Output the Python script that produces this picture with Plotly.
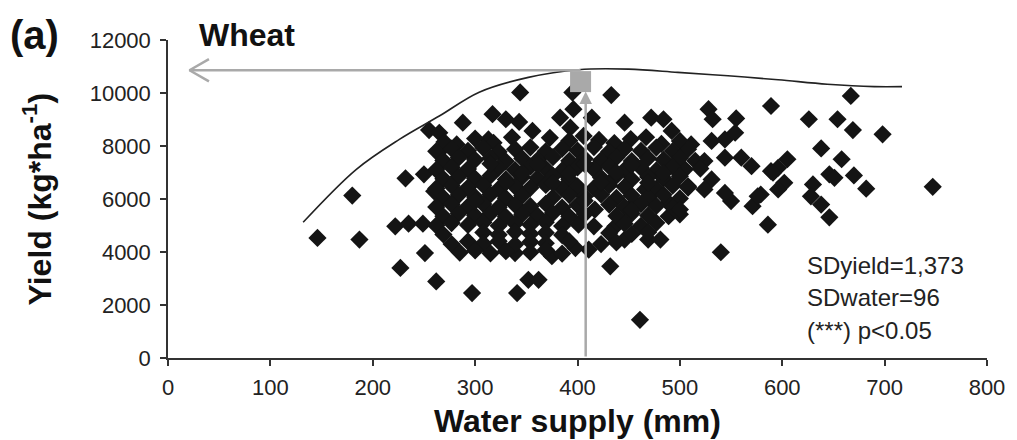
import plotly.graph_objects as go

# ---------------- data ----------------
water_supply_mm = [
    # sparse / outlying points
    146, 180, 187, 222, 235, 249, 232, 250, 251, 227, 262, 297, 255, 265, 288, 265, 282, 260,
    344, 395, 433, 317, 330, 343, 383, 396, 393, 414, 472, 484, 528, 532, 555, 589, 313, 356,
    373, 446, 492, 511, 544, 560, 570, 589, 586, 540, 432, 411, 461, 341, 352, 362, 339, 375,
    398, 446, 469, 481, 417, 401, 416, 437, 489, 489, 466, 456,
    667, 626, 654, 669, 698, 747, 638, 658, 646, 651, 670, 682, 630, 628, 638, 646, 605, 596,
    591, 602, 596, 579, 571, 550, 531, 531, 554, 544, 524, 505, 508, 524, 544, 576,
    # dense core
    270, 300, 318, 336, 392, 406, 421, 436, 452, 467, 482, 500,
    262, 277, 293, 308, 323, 339, 354, 369, 385, 400, 416, 431, 446, 462, 477, 493, 508,
    269, 284, 300, 315, 330, 346, 361, 376, 392, 407, 423, 438, 453, 469, 484, 500, 515,
    262, 277, 293, 323, 339, 354, 369, 385, 400, 416, 431, 446, 462, 477, 493, 520,
    269, 284, 300, 315, 330, 346, 361, 376, 392, 423, 438, 453, 469, 484, 500,
    262, 277, 293, 308, 323, 339, 354, 369, 385, 400, 416, 431, 446, 477, 493, 508,
    269, 284, 300, 315, 330, 346, 376, 392, 407, 423, 438, 453, 469, 484, 500,
    262, 277, 293, 308, 323, 339, 354, 369, 385, 400, 431, 446, 462, 477, 493,
    269, 284, 300, 315, 330, 346, 361, 376, 392, 407, 438, 453, 469, 500,
    262, 277, 293, 308, 323, 339, 354, 369, 385, 446, 462, 477,
    269, 308, 323, 339, 354, 369, 385, 431, 453, 469,
    277, 293, 308, 323, 339, 354, 369, 392, 423, 438,
    285, 300, 315, 330, 354, 369, 385,
    # extra fill points inside the dense core
    315, 361, 407, 453, 346, 392, 438, 484, 330, 376, 423, 469, 300, 407, 453, 500,
]
yield_kg_ha = [
    4530, 6130, 4470, 4970, 5070, 5070, 6780, 6930, 3960, 3400, 2890, 2450, 8600, 8500, 8880, 7790, 8060, 6290,
    10020, 10020, 9920, 9200, 9010, 8910, 9070, 9390, 8690, 9070, 9070, 9010, 9390, 9010, 9040, 9510, 8250, 8570,
    8310, 8880, 8570, 8060, 8250, 7560, 7240, 7050, 5030, 3990, 3460, 4090, 1440, 2450, 2950, 2950, 3960, 3840,
    4150, 4470, 4470, 4470, 5600, 5030, 4970, 4970, 5350, 5860, 6360, 5860,
    9890, 9010, 9010, 8600, 8440, 6460, 7910, 7500, 6930, 6800, 6890, 6390, 6550, 6100, 5790, 5310, 7500, 7180,
    6990, 6610, 6360, 6170, 5730, 5920, 6740, 8190, 8500, 7560, 7430, 7120, 6480, 6360, 6230, 6100,
    8150, 8280, 8120, 8330, 8200, 8380, 8230, 8110, 8260, 8330, 8080, 8190,
    7800, 7900, 7820, 7930, 7780, 7880, 7950, 7800, 7900, 7830, 7960, 7790, 7890, 7820, 7940, 7810, 7880,
    7450, 7560, 7480, 7550, 7420, 7530, 7470, 7580, 7440, 7520, 7460, 7570, 7430, 7540, 7480, 7550, 7440,
    7100, 7200, 7130, 7180, 7090, 7220, 7150, 7080, 7190, 7120, 7230, 7100, 7170, 7080, 7210, 7150,
    6760, 6850, 6770, 6880, 6740, 6830, 6790, 6870, 6750, 6810, 6880, 6740, 6830, 6780, 6860,
    6400, 6500, 6430, 6520, 6380, 6470, 6420, 6530, 6390, 6480, 6410, 6520, 6460, 6390, 6500, 6430,
    6050, 6150, 6080, 6170, 6030, 6120, 6060, 6150, 6090, 6170, 6040, 6130, 6070, 6160, 6020,
    5700, 5800, 5720, 5810, 5690, 5780, 5730, 5820, 5680, 5770, 5790, 5700, 5810, 5740, 5680,
    5350, 5460, 5380, 5450, 5330, 5420, 5370, 5470, 5340, 5430, 5360, 5450, 5380, 5420,
    5000, 5090, 5020, 5110, 4990, 5080, 5030, 5120, 4980, 5070, 4990, 5100,
    4660, 4740, 4650, 4760, 4690, 4730, 4640, 4720, 4680, 4750,
    4300, 4400, 4320, 4410, 4280, 4380, 4330, 4400, 4300, 4360,
    3980, 4060, 3950, 4030, 3990, 4080, 3940,
    7330, 7300, 7320, 7290, 6980, 6960, 7000, 6970, 6620, 6600, 6630, 6610, 5920, 5930, 5580, 5600,
]

# boundary line (maximum attainable yield)
boundary_water_mm = [132, 184, 226, 265, 304, 352, 401, 450, 498, 547, 596, 644, 690, 717]
boundary_yield_kg = [5120, 7120, 8250, 9130, 10030, 10590, 10880, 10900, 10780, 10650, 10500, 10330, 10240, 10240]

# highlighted optimum (gray square) and arrow targets
optimum_water_mm = 403
optimum_yield_kg = 10430
arrow_water_mm = 408          # vertical arrow position
arrow_tip_yield_kg = 10060    # vertical arrow tip
arrow_yield_kg = 10860        # horizontal arrow level
arrow_left_mm = 21            # horizontal arrow tip

x_ticks = [0, 100, 200, 300, 400, 500, 600, 700, 800]
y_ticks = [0, 2000, 4000, 6000, 8000, 10000, 12000]
y_tick_labels = ["0", "2000", "4000", "6000", "8000", "10000", "12000"]

stats_lines = ["SDyield=1,373", "SDwater=96", "(***) p<0.05"]

GRAY = "#a9a9a9"
FONT = "Liberation Sans, Arial, sans-serif"

fig = go.Figure()

fig.add_trace(go.Scatter(
    x=water_supply_mm, y=yield_kg_ha, mode="markers",
    marker=dict(symbol="diamond", size=14, color="#141414", line=dict(width=0)),
    hoverinfo="skip", showlegend=False))

fig.add_trace(go.Scatter(
    x=boundary_water_mm, y=boundary_yield_kg, mode="lines",
    line=dict(color="#222222", width=1.6, shape="spline", smoothing=1.0),
    hoverinfo="skip", showlegend=False))

# horizontal arrow shaft
fig.add_trace(go.Scatter(
    x=[optimum_water_mm, arrow_left_mm], y=[arrow_yield_kg, arrow_yield_kg], mode="lines",
    line=dict(color=GRAY, width=2.5), hoverinfo="skip", showlegend=False))
# open chevron head
head_dx = 19
head_dy = 420
fig.add_trace(go.Scatter(
    x=[arrow_left_mm + head_dx, arrow_left_mm, arrow_left_mm + head_dx],
    y=[arrow_yield_kg + head_dy, arrow_yield_kg, arrow_yield_kg - head_dy], mode="lines",
    line=dict(color=GRAY, width=2.5), hoverinfo="skip", showlegend=False))

# gray square
fig.add_trace(go.Scatter(
    x=[optimum_water_mm], y=[optimum_yield_kg], mode="markers",
    marker=dict(symbol="square", size=21, color=GRAY, line=dict(width=0)),
    hoverinfo="skip", showlegend=False))

annotations = [
    # vertical arrow
    dict(x=arrow_water_mm, y=arrow_tip_yield_kg, ax=arrow_water_mm, ay=0,
         xref="x", yref="y", axref="x", ayref="y", text="", showarrow=True,
         arrowhead=2, arrowsize=1.0, arrowwidth=2.5, arrowcolor=GRAY),
    # axis titles
    dict(x=-0.1594, y=0.5, xref="paper", yref="paper", text="<b>Yield (kg*ha<sup>-1</sup>)</b>",
         textangle=-90, showarrow=False, xanchor="center", yanchor="middle",
         font=dict(family=FONT, size=32, color="#111")),
    dict(x=0.5, y=-0.198, xref="paper", yref="paper", text="<b>Water supply (mm)</b>",
         showarrow=False, xanchor="center", yanchor="middle",
         font=dict(family=FONT, size=32, color="#111")),
    dict(x=-0.163, y=1.017, xref="paper", yref="paper", text="<b>(a)</b>",
         showarrow=False, xanchor="center", yanchor="middle",
         font=dict(family=FONT, size=40, color="#111")),
    dict(x=0.0353, y=1.017, xref="paper", yref="paper", text="<b>Wheat</b>",
         showarrow=False, xanchor="left", yanchor="middle",
         font=dict(family=FONT, size=32, color="#111")),
]
for i, line in enumerate(stats_lines):
    annotations.append(dict(
        x=0.778, y=0.292 - i * 0.102, xref="paper", yref="paper", text=line,
        showarrow=False, xanchor="left", yanchor="middle",
        font=dict(family=FONT, size=24, color="#222")))

fig.update_layout(
    width=1017, height=440,
    margin=dict(l=168, r=27, t=40, b=82, pad=0),
    paper_bgcolor="white", plot_bgcolor="white",
    font=dict(family=FONT, color="#222"),
    annotations=annotations,
    xaxis=dict(range=[0, 800], tickvals=x_ticks, showgrid=False, zeroline=False,
               showline=True, linecolor="#333", linewidth=1.5,
               ticks="outside", ticklen=6, tickwidth=1.5, tickcolor="#333",
               ticklabelstandoff=3,
               tickfont=dict(family=FONT, size=22, color="#222")),
    yaxis=dict(range=[0, 12000], tickvals=y_ticks, ticktext=y_tick_labels,
               showgrid=False, zeroline=False,
               showline=True, linecolor="#333", linewidth=1.5,
               ticks="outside", ticklen=6, tickwidth=1.5, tickcolor="#333",
               ticklabelstandoff=5,
               tickfont=dict(family=FONT, size=22, color="#222")),
)

fig.write_html("out.html", config={"displayModeBar": False},
               post_script="document.body.style.margin='0';")
